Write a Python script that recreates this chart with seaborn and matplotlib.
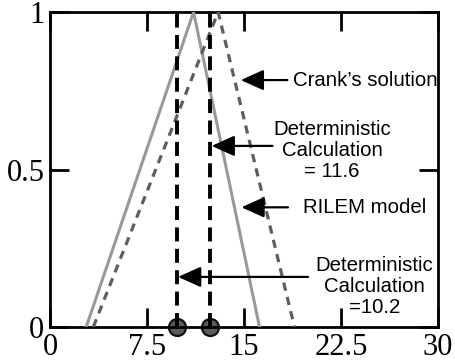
import matplotlib
matplotlib.use("Agg")
import matplotlib.pyplot as plt
import seaborn as sns
import pandas as pd

# Data
rilem_x = [2.8, 11.1, 16.2]
rilem_y = [0.0, 1.0, 0.0]
crank_x = [3.35, 13.0, 18.9]
crank_y = [0.0, 1.0, 0.0]
det_x = [9.8, 12.4]
xticks = [0, 7.5, 15, 22.5, 30]
xtick_labels = ["0", "7.5", "15", "22.5", "30"]
yticks = [0, 0.5, 1]
ytick_labels = ["0", "0.5", "1"]

# annotations
ann_texts = ["Crank\u2019s solution", "Deterministic\nCalculation\n= 11.6",
             "RILEM model", "Deterministic\nCalculation\n=10.2"]
ann_ha = ["left", "center", "left", "center"]
ann_text_x = [18.75, 21.8, 19.55, 25.1]
ann_text_y = [0.784, 0.56, 0.38, 0.128]
ann_tip_x = [14.75, 12.5, 14.8, 9.9]
ann_tip_y = [0.784, 0.575, 0.38, 0.159]
ann_tail_x = [18.35, 17.2, 18.4, 19.95]

sns.set_style("white")
plt.rcParams['font.family'] = ['Liberation Sans', 'DejaVu Sans']

fig = plt.figure(figsize=(4.56, 3.62), dpi=100)
ax = fig.add_axes([0.1096, 0.0967, 0.851, 0.870])

df_r = pd.DataFrame({"x": rilem_x, "y": rilem_y})
df_c = pd.DataFrame({"x": crank_x, "y": crank_y})
sns.lineplot(data=df_r, x="x", y="y", ax=ax, color="#999999", linewidth=2.2,
             sort=False, estimator=None, zorder=3)
sns.lineplot(data=df_c, x="x", y="y", ax=ax, color="#5e5e5e", linewidth=2.3,
             linestyle=(0, (2.6, 2.0)), sort=False, estimator=None, zorder=3)
for xv in det_x:
    sns.lineplot(x=[xv, xv], y=[0, 1], ax=ax, color="black", linewidth=2.8,
                 linestyle=(0, (3.6, 1.9)), sort=False, estimator=None, zorder=3)
sns.scatterplot(x=det_x, y=[0, 0], ax=ax, s=150, color="#5a5a5a",
                edgecolor="#111111", linewidth=1.6, zorder=2, clip_on=False)

for t, ha, tx, ty, px, py, sx in zip(ann_texts, ann_ha, ann_text_x, ann_text_y,
                                     ann_tip_x, ann_tip_y, ann_tail_x):
    ax.annotate("", xy=(px, py), xytext=(sx, py),
                arrowprops=dict(arrowstyle="-|>,head_length=1.0,head_width=0.45",
                                mutation_scale=14, color="black", lw=1.6,
                                shrinkA=0, shrinkB=0), zorder=4)
    ax.text(tx, ty, t, ha=ha, va="center", fontsize=14.7,
            color="black", linespacing=1.12, zorder=4)

ax.set_xlim(0, 30)
ax.set_ylim(0, 1)
ax.set_xticks(xticks)
ax.set_xticklabels(xtick_labels, family="Liberation Serif", fontsize=22)
ax.set_yticks(yticks)
ax.set_yticklabels(ytick_labels, family="Liberation Serif", fontsize=22)
ax.set_xlabel("")
ax.set_ylabel("")
ax.tick_params(direction="in", length=14, width=2, top=True, right=True,
               bottom=True, left=True, pad=4, colors="black")
for sp in ax.spines.values():
    sp.set_linewidth(2)
    sp.set_color("black")
    sp.set_zorder(2.5)

fig.savefig("out.png", dpi=100)
